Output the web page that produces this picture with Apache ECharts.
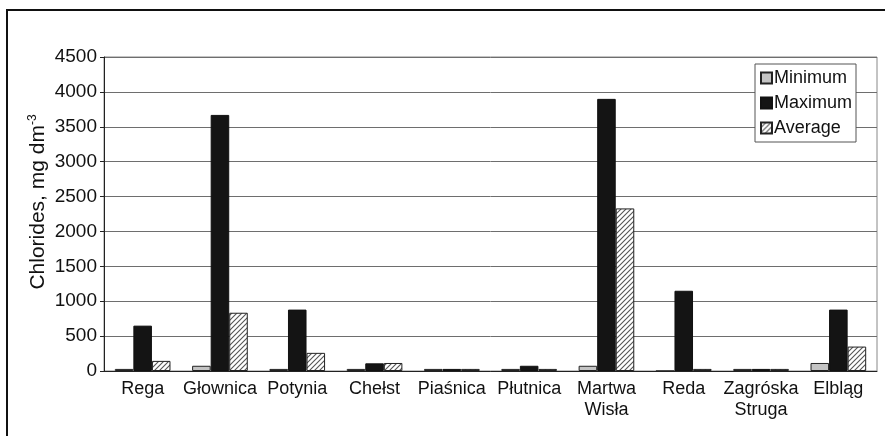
<!DOCTYPE html>
<html>
<head>
<meta charset="utf-8">
<script src="https://cdn.jsdelivr.net/npm/echarts@6/dist/echarts.min.js"></script>
<style>
  html, body { margin: 0; padding: 0; background: #fff; }
  #chart { width: 885px; height: 436px; }
</style>
</head>
<body>
<div id="chart"></div>
<script>
// rivers on the x axis
var rivers = ['Rega', 'Głownica', 'Potynia', 'Chełst', 'Piaśnica', 'Płutnica',
              'Martwa\nWisła', 'Reda', 'Zagróska\nStruga', 'Elbląg'];

// chlorides, mg dm-3
var minimum = [30, 75, 30, 30, 30, 30, 75, 0, 30, 115];
var maximum = [650, 3670, 880, 110, 30, 75, 3900, 1150, 30, 880];
var average = [145, 835, 260, 115, 30, 30, 2330, 30, 30, 350];

var FONT = '"Liberation Sans", Arial, sans-serif';

// diagonal hatch for the "Average" bars
function makeHatch() {
    var c = document.createElement('canvas');
    c.width = 5;
    c.height = 5;
    var ctx = c.getContext('2d');
    ctx.fillStyle = '#ffffff';
    ctx.fillRect(0, 0, 5, 5);
    ctx.strokeStyle = '#555555';
    ctx.lineWidth = 1.1;
    ctx.beginPath();
    ctx.moveTo(-1, 6); ctx.lineTo(6, -1);
    ctx.moveTo(-3, 3); ctx.lineTo(3, -3);
    ctx.moveTo(2, 8); ctx.lineTo(8, 2);
    ctx.stroke();
    return c;
}

var chart = echarts.init(document.getElementById('chart'));

var option = {
    animation: false,
    backgroundColor: '#ffffff',
    textStyle: { fontFamily: FONT },
    grid: {
        left: 104,
        right: 8,
        top: 57,
        bottom: 65,
        show: true,
        borderColor: '#888888',
        borderWidth: 1
    },
    // outer frame round the whole chart
    graphic: [{
        type: 'rect',
        shape: { x: 7, y: 10, width: 900, height: 500 },
        style: { fill: 'none', stroke: '#111111', lineWidth: 2 },
        z: 10
    }],
    legend: {
        orient: 'vertical',
        left: 755,
        top: 64,
        icon: 'rect',
        itemWidth: 11,
        itemHeight: 11,
        itemGap: 7,
        padding: [5, 4, 5, 5],
        backgroundColor: '#ffffff',
        borderColor: '#555555',
        borderWidth: 1,
        textStyle: { fontFamily: FONT, fontSize: 18, color: '#111', padding: [0, 0, 0, -3] },
        data: ['Minimum', 'Maximum', 'Average']
    },
    xAxis: {
        type: 'category',
        data: rivers,
        axisLine: { lineStyle: { color: '#222', width: 1 } },
        axisTick: { length: 5, lineStyle: { color: '#222' } },
        axisLabel: {
            interval: 0,
            margin: 8,
            fontSize: 18,
            lineHeight: 21,
            color: '#111',
            fontFamily: FONT
        }
    },
    yAxis: {
        type: 'value',
        min: 0,
        max: 4500,
        interval: 500,
        name: '{a|Chlorides, mg dm}{b|-3}',
        nameLocation: 'middle',
        nameGap: 55,
        nameMoveOverlap: false,
        nameTextStyle: {
            padding: [0, 0, 0, 24],
            rich: {
                a: { fontSize: 21, fontFamily: FONT, color: '#111', lineHeight: 22 },
                b: { fontSize: 12, fontFamily: FONT, color: '#111', verticalAlign: 'top', lineHeight: 22 }
            }
        },
        axisLine: { show: true, lineStyle: { color: '#222', width: 1 } },
        axisTick: { show: true, length: 4, lineStyle: { color: '#222' } },
        axisLabel: {
            fontSize: 19,
            margin: 7,
            color: '#111',
            fontFamily: FONT,
            formatter: function (value) {
                return String(value);
            }
        },
        splitLine: { lineStyle: { color: '#6e6e6e', width: 1 } }
    },
    series: [
        {
            name: 'Minimum',
            type: 'bar',
            data: minimum,
            barGap: '0%',
            barCategoryGap: '28%',
            itemStyle: { color: '#c4c4c4', borderColor: '#222', borderWidth: 1 }
        },
        {
            name: 'Maximum',
            type: 'bar',
            data: maximum,
            itemStyle: { color: '#141414', borderColor: '#111', borderWidth: 1 }
        },
        {
            name: 'Average',
            type: 'bar',
            data: average,
            itemStyle: {
                color: { image: makeHatch(), repeat: 'repeat' },
                borderColor: '#222',
                borderWidth: 1
            }
        }
    ]
};

chart.setOption(option);
</script>
</body>
</html>
